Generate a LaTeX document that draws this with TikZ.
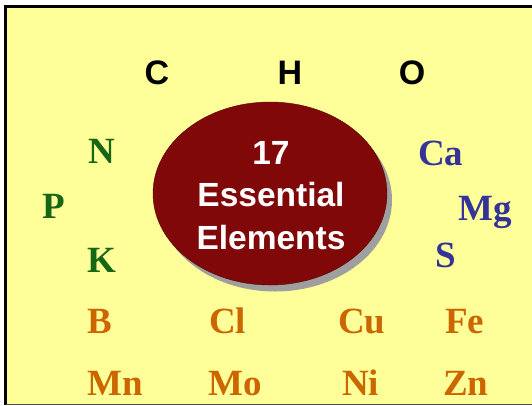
\documentclass[tikz,border=0pt]{standalone}
\usepackage{fontspec}
\setmainfont{Liberation Serif}
\setsansfont{Liberation Sans}
\usetikzlibrary{shapes,positioning}
\definecolor{slideyellow}{RGB}{255,255,153}
\definecolor{coredred}{RGB}{128,8,8}
\definecolor{elemgreen}{RGB}{22,102,22}
\definecolor{elemblue}{RGB}{51,51,153}
\definecolor{elemorange}{RGB}{204,102,0}

\begin{document}
\begin{tikzpicture}[x=1pt, y=-1pt,
    chobox/.style={font=\sffamily\bfseries\fontsize{34}{36}\selectfont, anchor=base, inner sep=0pt},
    elembox/.style={font=\rmfamily\bfseries\fontsize{37}{40}\selectfont, anchor=base west, inner sep=0pt},
    corebox/.style={ellipse, fill=coredred, draw=coredred!70!black, minimum width=234pt, minimum height=183pt, inner sep=0pt}
]
\useasboundingbox (0,0) rectangle (532,405);
\fill[white] (0,0) rectangle (532,405);
\fill[slideyellow] (5.5,6.5) rectangle (532,405);
\draw[line width=3pt] (5.5,405) -- (5.5,6.5) -- (532,6.5);
\draw[line width=0.8pt, black!70] (5.5,404.6) -- (532,404.6);

% the big ellipse
\node[corebox, fill=gray!75, draw=none] (coreshadow) at (275,200) {};
\node[corebox] (core) at (270,193.5) {};
\node[font=\sffamily\bfseries\fontsize{33.5}{42.5}\selectfont, text=white, align=center, inner sep=0pt]
    (corelabel) at (271,195.5) {17\\Essential\\Elements};

% C H O
\node[chobox] (c) at (157,84) {C};
\node[chobox] (h) at (290,84) {H};
\node[chobox] (o) at (412,84) {O};

% N P K
\node[elembox, text=elemgreen] (n) at (88,163) {N};
\node[elembox, text=elemgreen] (p) at (42,218) {P};
\node[elembox, text=elemgreen] (k) at (87,272) {K};

% Ca Mg S
\node[elembox, text=elemblue] (ca) at (418,165) {Ca};
\node[elembox, text=elemblue] (mg) at (458,220) {Mg};
\node[elembox, text=elemblue] (s)  at (435,267) {S};

% micronutrients
\node[elembox, text=elemorange] (b)  at (87,333)  {B};
\node[elembox, text=elemorange] (cl) at (209,333) {Cl};
\node[elembox, text=elemorange] (cu) at (338,333) {Cu};
\node[elembox, text=elemorange] (fe) at (445,333) {Fe};
\node[elembox, text=elemorange] (mn) at (87,395)  {Mn};
\node[elembox, text=elemorange] (mo) at (208,395) {Mo};
\node[elembox, text=elemorange] (ni) at (342,395) {Ni};
\node[elembox, text=elemorange] (zn) at (443,395) {Zn};
\end{tikzpicture}
\end{document}
